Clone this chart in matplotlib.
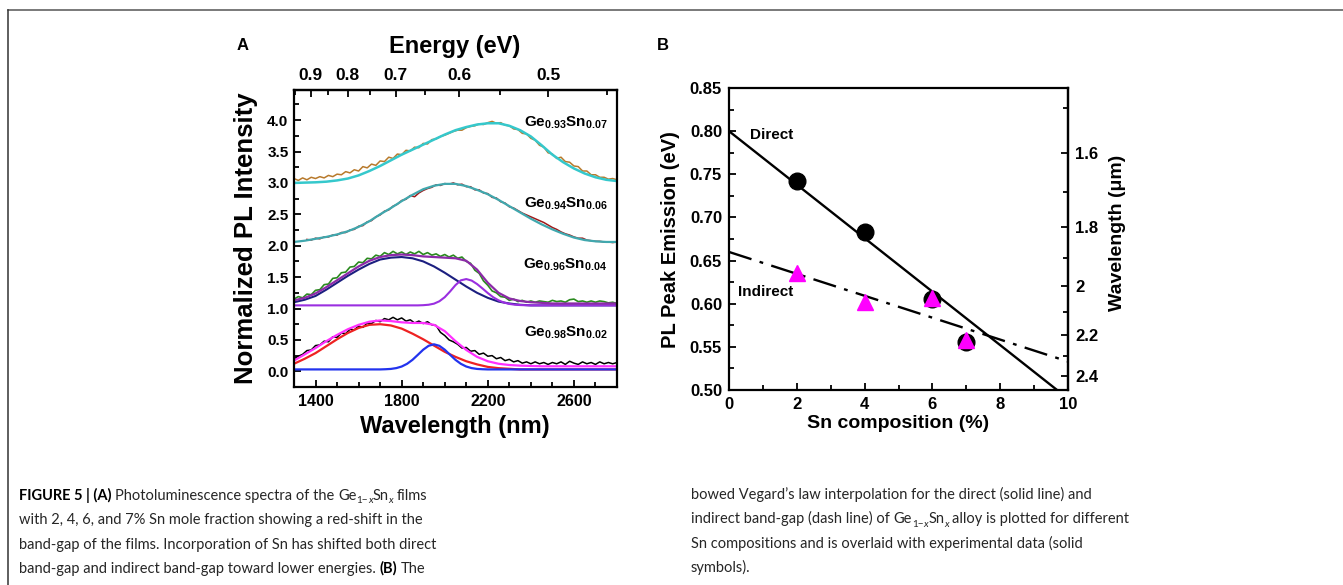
import numpy as np
import matplotlib
matplotlib.use("Agg")
import matplotlib.pyplot as plt
from matplotlib.font_manager import FontProperties, fontManager, weight_dict
from matplotlib.textpath import TextPath
from matplotlib.lines import Line2D
from matplotlib.ticker import FixedLocator

SANS = "Liberation Sans"
plt.rcParams["font.family"] = [SANS, "DejaVu Sans"]
plt.rcParams["mathtext.fontset"] = "custom"
plt.rcParams["mathtext.rm"] = SANS
plt.rcParams["mathtext.it"] = SANS + ":italic"
plt.rcParams["mathtext.bf"] = SANS + ":bold"

# ---------------- data: panel A ----------------
wl_meas = list(range(1300, 2801, 20))          # measured spectra sampling (nm)
wl_meas06 = list(range(1360, 2801, 20))
wl_fit = list(range(1300, 2801, 50))           # fitted curves sampling (nm)
wl_fit_fine = list(range(1300, 2801, 25))

spec_007 = [3.07, 3.04, 3.08, 3.05, 3.09, 3.07, 3.10, 3.08, 3.12, 3.10,
            3.14, 3.13, 3.18, 3.16, 3.21, 3.19, 3.26, 3.24, 3.30, 3.28,
            3.35, 3.34, 3.41, 3.39, 3.46, 3.45, 3.52, 3.51, 3.57, 3.56,
            3.63, 3.62, 3.69, 3.70, 3.74, 3.76, 3.79, 3.82, 3.84, 3.84,
            3.88, 3.90, 3.91, 3.94, 3.93, 3.96, 3.98, 3.95, 3.96, 3.92,
            3.91, 3.86, 3.85, 3.79, 3.78, 3.71, 3.68, 3.60, 3.57, 3.48,
            3.46, 3.39, 3.41, 3.34, 3.33, 3.27, 3.26, 3.19, 3.19, 3.13,
            3.13, 3.09, 3.09, 3.06, 3.07, 3.05]
fit_007 = [3.00, 3.005, 3.01, 3.02, 3.04, 3.07, 3.12, 3.19, 3.27, 3.36,
           3.45, 3.53, 3.61, 3.69, 3.77, 3.84, 3.89, 3.93, 3.95, 3.95,
           3.91, 3.84, 3.74, 3.60, 3.45, 3.33, 3.23, 3.15, 3.09, 3.05, 3.03]

spec_006 = [2.10, 2.09, 2.12, 2.11, 2.14, 2.14, 2.17, 2.17, 2.21, 2.21,
            2.25, 2.26, 2.31, 2.32, 2.38, 2.40, 2.46, 2.49, 2.55, 2.57,
            2.63, 2.66, 2.72, 2.74, 2.80, 2.78, 2.84, 2.88, 2.91, 2.93,
            2.97, 2.96, 2.99, 2.98, 3.00, 2.97, 2.98, 2.94, 2.94, 2.89,
            2.89, 2.84, 2.83, 2.77, 2.76, 2.70, 2.68, 2.62, 2.60, 2.56,
            2.52, 2.49, 2.46, 2.43, 2.40, 2.37, 2.33, 2.29, 2.26, 2.22,
            2.19, 2.17, 2.14, 2.12, 2.12, 2.09, 2.08, 2.07, 2.07, 2.06,
            2.06, 2.05, 2.06]
fit_006 = [2.06, 2.08, 2.11, 2.14, 2.18, 2.23, 2.30, 2.39, 2.50, 2.60,
           2.71, 2.81, 2.90, 2.955, 2.985, 2.985, 2.95, 2.89, 2.82, 2.73,
           2.63, 2.53, 2.43, 2.34, 2.26, 2.19, 2.13, 2.09, 2.07, 2.06, 2.06]

spec_004 = [1.15, 1.19, 1.17, 1.23, 1.22, 1.29, 1.30, 1.38, 1.39, 1.48,
            1.49, 1.57, 1.58, 1.66, 1.67, 1.74, 1.73, 1.80, 1.79, 1.85,
            1.83, 1.89, 1.86, 1.91, 1.87, 1.90, 1.86, 1.90, 1.87, 1.91,
            1.86, 1.89, 1.85, 1.87, 1.83, 1.86, 1.82, 1.85, 1.80, 1.82,
            1.75, 1.72, 1.61, 1.56, 1.44, 1.37, 1.28, 1.25, 1.19, 1.18,
            1.13, 1.15, 1.11, 1.13, 1.10, 1.12, 1.10, 1.12, 1.11, 1.10,
            1.13, 1.11, 1.12, 1.10, 1.14, 1.15, 1.11, 1.12, 1.10, 1.12,
            1.10, 1.12, 1.11, 1.09, 1.10, 1.08]
fit_004_low = [1.10, 1.14, 1.20, 1.30, 1.41, 1.52, 1.62, 1.71, 1.78, 1.81,
               1.82, 1.80, 1.75, 1.67, 1.57, 1.46, 1.35, 1.25, 1.17, 1.11,
               1.08, 1.06, 1.05, 1.05, 1.05, 1.05, 1.05, 1.05, 1.05, 1.05, 1.05]
fit_004_high = [1.05, 1.05, 1.05, 1.05, 1.05, 1.05, 1.05, 1.05, 1.05, 1.05,
                1.05, 1.05, 1.05, 1.05, 1.05, 1.05, 1.05, 1.05, 1.05, 1.05,
                1.05, 1.05, 1.05, 1.05, 1.053, 1.06, 1.077, 1.115, 1.18, 1.272,
                1.373, 1.449, 1.469, 1.445, 1.39, 1.32, 1.246, 1.18, 1.13, 1.095,
                1.073, 1.061, 1.055, 1.052, 1.05, 1.05, 1.05, 1.05, 1.05, 1.05,
                1.05, 1.05, 1.05, 1.05, 1.05, 1.05, 1.05, 1.05, 1.05, 1.05, 1.05]
fit_004_sum = [1.13, 1.17, 1.24, 1.34, 1.45, 1.56, 1.67, 1.76, 1.82, 1.85,
               1.86, 1.85, 1.83, 1.82, 1.81, 1.80, 1.76, 1.62, 1.41, 1.25,
               1.16, 1.12, 1.10, 1.09, 1.08, 1.08, 1.08, 1.08, 1.08, 1.08, 1.08]

spec_002 = [0.20, 0.24, 0.27, 0.33, 0.34, 0.41, 0.42, 0.48, 0.47, 0.55,
            0.54, 0.61, 0.60, 0.67, 0.66, 0.72, 0.70, 0.77, 0.76, 0.81,
            0.79, 0.84, 0.82, 0.86, 0.82, 0.85, 0.80, 0.82, 0.77, 0.80,
            0.76, 0.79, 0.74, 0.73, 0.62, 0.57, 0.50, 0.47, 0.43, 0.37,
            0.38, 0.32, 0.33, 0.27, 0.29, 0.24, 0.25, 0.20, 0.22, 0.17,
            0.19, 0.15, 0.17, 0.13, 0.15, 0.12, 0.15, 0.12, 0.14, 0.11,
            0.14, 0.12, 0.15, 0.11, 0.16, 0.13, 0.11, 0.15, 0.12, 0.14,
            0.11, 0.15, 0.12, 0.14, 0.12, 0.14]
fit_002_low = [0.12, 0.20, 0.29, 0.40, 0.51, 0.61, 0.69, 0.74, 0.75, 0.73,
               0.68, 0.60, 0.51, 0.41, 0.31, 0.23, 0.16, 0.11, 0.07, 0.05,
               0.04, 0.03, 0.03, 0.03, 0.03, 0.03, 0.03, 0.03, 0.03, 0.03, 0.03]
fit_002_high = [0.03, 0.03, 0.03, 0.03, 0.03, 0.03, 0.03, 0.03, 0.03, 0.03,
                0.03, 0.03, 0.03, 0.03, 0.03, 0.03, 0.03, 0.033, 0.038, 0.051,
                0.076, 0.119, 0.182, 0.262, 0.344, 0.406, 0.43, 0.406, 0.344, 0.262,
                0.182, 0.119, 0.076, 0.051, 0.038, 0.033, 0.03, 0.03, 0.03, 0.03,
                0.03, 0.03, 0.03, 0.03, 0.03, 0.03, 0.03, 0.03, 0.03, 0.03,
                0.03, 0.03, 0.03, 0.03, 0.03, 0.03, 0.03, 0.03, 0.03, 0.03, 0.03]
fit_002_sum = [0.17, 0.27, 0.37, 0.48, 0.58, 0.67, 0.74, 0.79, 0.81, 0.80,
               0.78, 0.77, 0.77, 0.74, 0.64, 0.48, 0.34, 0.23, 0.16, 0.12,
               0.10, 0.09, 0.085, 0.08, 0.08, 0.08, 0.08, 0.08, 0.08, 0.08, 0.08]

sample_labels = [r"Ge$_{\mathbf{0.93}}$Sn$_{\mathbf{0.07}}$",
                 r"Ge$_{\mathbf{0.94}}$Sn$_{\mathbf{0.06}}$",
                 r"Ge$_{\mathbf{0.96}}$Sn$_{\mathbf{0.04}}$",
                 r"Ge$_{\mathbf{0.98}}$Sn$_{\mathbf{0.02}}$"]
sample_label_y = [3.96, 2.66, 1.70, 0.62]

wl_ticks = [1400, 1800, 2200, 2600]
wl_minor = [1300, 1500, 1600, 1700, 1900, 2000, 2100, 2300, 2400, 2500, 2700]
int_ticks = [0.0, 0.5, 1.0, 1.5, 2.0, 2.5, 3.0, 3.5, 4.0]
int_minor = [0.25, 0.75, 1.25, 1.75, 2.25, 2.75, 3.25, 3.75, 4.25]
energy_ticks = [0.9, 0.8, 0.7, 0.6, 0.5]
energy_minor = [0.95, 0.85, 0.75, 0.65, 0.55, 0.45]

# ---------------- data: panel B ----------------
sn_pts = [2, 4, 6, 7]
direct_pts = [0.742, 0.683, 0.605, 0.556]
indirect_pts = [0.636, 0.602, 0.607, 0.558]
fit_x = [0, 10]
direct_fit = [0.800, 0.490]
indirect_fit = [0.660, 0.533]
sn_ticks = [0, 2, 4, 6, 8, 10]
sn_minor = [1, 3, 5, 7, 9]
pe_ticks = [0.50, 0.55, 0.60, 0.65, 0.70, 0.75, 0.80, 0.85]
pe_minor = [0.525, 0.575, 0.625, 0.675, 0.725, 0.775, 0.825]
wl_um_ticks = [1.6, 1.8, 2.0, 2.2, 2.4]
wl_um_labels = ["1.6", "1.8", "2", "2.2", "2.4"]
wl_um_minor = [1.5, 1.7, 1.9, 2.1, 2.3]

# ---------------- figure ----------------
W, H = 1343, 585
fig = plt.figure(figsize=(W / 100, H / 100), dpi=100)
fig.patch.set_facecolor("white")


def fx(px):
    return px / W


def fy(py):
    return 1 - py / H


fig.add_artist(Line2D([fx(8), 1.0], [fy(10), fy(10)], color="#555555", lw=1.1,
                      transform=fig.transFigure))
fig.add_artist(Line2D([fx(8), fx(8)], [fy(10), 0.0], color="#333333", lw=1.1,
                      transform=fig.transFigure))


def bold_labels(labels):
    for lab in labels:
        lab.set_fontweight("bold")


# ---------- Panel A ----------
axA = fig.add_axes([fx(294), fy(387), fx(617) - fx(294), fy(90) - fy(387)])
axA.plot(wl_meas, spec_007, color="#b87a2c", lw=1.1)
axA.plot(wl_fit, fit_007, color="#35c8cc", lw=1.8)
axA.plot(wl_meas06, spec_006, color="#a01818", lw=1.1)
axA.plot(wl_fit, fit_006, color="#40a8ae", lw=1.6)
axA.plot(wl_meas, spec_004, color="#2a8a1e", lw=1.2)
axA.plot(wl_fit, fit_004_low, color="#1c1f80", lw=1.5)
axA.plot(wl_fit_fine, fit_004_high, color="#9a2fe0", lw=1.5)
axA.plot(wl_fit, fit_004_sum, color="#8c2aa8", lw=1.6)
axA.plot(wl_meas, spec_002, color="black", lw=1.1)
axA.plot(wl_fit, fit_002_low, color="#ee2222", lw=1.6)
axA.plot(wl_fit_fine, fit_002_high, color="#2233ee", lw=1.6)
axA.plot(wl_fit, fit_002_sum, color="#ff30ff", lw=1.6)

axA.set_xlim(1300, 2800)
axA.set_ylim(-0.25, 4.48)
axA.xaxis.set_major_locator(FixedLocator(wl_ticks))
axA.xaxis.set_minor_locator(FixedLocator(wl_minor))
axA.yaxis.set_major_locator(FixedLocator(int_ticks))
axA.yaxis.set_minor_locator(FixedLocator(int_minor))
axA.set_yticklabels([f"{v:.1f}" for v in int_ticks])
axA.set_xticklabels([str(v) for v in wl_ticks])
axA.tick_params(which="both", direction="in", top=False, right=False, width=1.3)
axA.tick_params(axis="y", which="major", length=5, labelsize=11, pad=4)
axA.tick_params(axis="x", which="major", length=5, labelsize=11.5, pad=5)
axA.tick_params(which="minor", length=3.5)
bold_labels(axA.get_xticklabels() + axA.get_yticklabels())
for s in axA.spines.values():
    s.set_linewidth(1.6)


def w2e(w):
    w = np.asarray(w, dtype=float)
    with np.errstate(divide="ignore"):
        return 1240.0 / w


secA = axA.secondary_xaxis("top", functions=(w2e, w2e))
secA.xaxis.set_major_locator(FixedLocator(energy_ticks))
secA.xaxis.set_minor_locator(FixedLocator(energy_minor))
secA.set_xticklabels([f"{v:.1f}" for v in energy_ticks])
secA.tick_params(which="both", direction="in", width=1.3)
secA.tick_params(which="major", length=5, labelsize=12.5, pad=5)
secA.tick_params(which="minor", length=3.5)
bold_labels(secA.get_xticklabels())
secA.spines["top"].set_linewidth(1.6)

for lbl, yv in zip(sample_labels, sample_label_y):
    axA.text(2755, yv, lbl, ha="right", va="center", fontsize=11, fontweight="bold")

fig.text(fx(455), fy(46), "Energy (eV)", ha="center", va="center", fontsize=17,
         fontweight="bold")
fig.text(fx(455), fy(426), "Wavelength (nm)", ha="center", va="center", fontsize=17,
         fontweight="bold")
fig.text(fx(246), fy(238), "Normalized PL Intensity", ha="center", va="center",
         rotation=90, fontsize=18.5, fontweight="bold")
fig.text(fx(243), fy(46), "A", ha="center", va="center", fontsize=12, fontweight="bold")

# ---------- Panel B ----------
axB = fig.add_axes([fx(729), fy(390), fx(1068) - fx(729), fy(88) - fy(390)])
axB.plot(fit_x, direct_fit, color="black", lw=1.7)
axB.plot(fit_x, indirect_fit, color="black", lw=1.7,
         ls=(0, (10.0, 3.6, 1.6, 3.6)))
axB.plot(sn_pts, direct_pts, ls="none", marker="o", ms=12, color="black")
axB.plot(sn_pts, indirect_pts, ls="none", marker="^", ms=11.5, color="#ff00ff",
         markeredgecolor="#ff00ff")
axB.set_xlim(0, 10)
axB.set_ylim(0.50, 0.85)
axB.xaxis.set_major_locator(FixedLocator(sn_ticks))
axB.xaxis.set_minor_locator(FixedLocator(sn_minor))
axB.yaxis.set_major_locator(FixedLocator(pe_ticks))
axB.yaxis.set_minor_locator(FixedLocator(pe_minor))
axB.set_xticklabels([str(v) for v in sn_ticks])
axB.set_yticklabels([f"{v:.2f}" for v in pe_ticks])
axB.tick_params(which="both", direction="in", top=False, right=False, width=1.3)
axB.tick_params(which="major", length=5, labelsize=12, pad=5)
axB.tick_params(which="minor", length=3.5)
bold_labels(axB.get_xticklabels() + axB.get_yticklabels())
for s in axB.spines.values():
    s.set_linewidth(1.6)


def e2um(e):
    e = np.asarray(e, dtype=float)
    with np.errstate(divide="ignore"):
        return 1.24 / e


secB = axB.secondary_yaxis("right", functions=(e2um, e2um))
secB.yaxis.set_major_locator(FixedLocator(wl_um_ticks))
secB.yaxis.set_minor_locator(FixedLocator(wl_um_minor))
secB.set_yticklabels(wl_um_labels)
secB.tick_params(which="both", direction="in", width=1.3)
secB.tick_params(which="major", length=5, labelsize=12, pad=5)
secB.tick_params(which="minor", length=3.5)
bold_labels(secB.get_yticklabels())
secB.spines["right"].set_linewidth(1.6)

axB.text(0.62, 0.796, "Direct", ha="left", va="center", fontsize=11, fontweight="bold")
axB.text(0.27, 0.614, "Indirect", ha="left", va="center", fontsize=11, fontweight="bold")

fig.text(fx(898), fy(423), "Sn composition (%)", ha="center", va="center",
         fontsize=14, fontweight="bold")
fig.text(fx(671), fy(240), "PL Peak Emission (eV)", ha="center", va="center",
         rotation=90, fontsize=14.5, fontweight="bold")
fig.text(fx(1117), fy(233), "Wavelength (\u03bcm)", ha="center", va="center",
         rotation=90, fontsize=14, fontweight="bold")
fig.text(fx(663), fy(46), "B", ha="center", va="center", fontsize=12, fontweight="bold")

# ---------- caption ----------
renderer = fig.canvas.get_renderer()
probe = "with 2, 4, 6, and 7% Sn mole fraction showing a red-shift in the"
TARGET_W = 401.0   # px width of the probe line in the reference
TARGET_CAP = 11.0  # px cap height in the reference


def wnum(w):
    if isinstance(w, str):
        return weight_dict.get(w, 400)
    return int(w)


def text_width(s, fp):
    t = fig.text(0, 0, s, fontproperties=fp)
    w = t.get_window_extent(renderer).width
    t.remove()
    return w


families = ["Liberation Sans", "Liberation Sans Narrow", "Roboto", "Roboto Condensed",
            "Lato", "Open Sans", "Open Sans Condensed", "Noto Sans", "Inter",
            "DejaVu Sans"]
cands = [f for f in fontManager.ttflist
         if f.name in families and f.style == "normal"
         and wnum(f.weight) == 400]
best = None
for f in cands:
    try:
        fp = FontProperties(fname=f.fname, size=12)
        w0 = text_width(probe, fp)
        size = 12 * TARGET_W / w0
        cap = TextPath((0, 0), "H", prop=FontProperties(fname=f.fname, size=size)
                       ).get_extents().height * 100 / 72
        score = abs(cap - TARGET_CAP)
        if best is None or score < best[0]:
            best = (score, f, size)
    except Exception:
        continue

if best is not None:
    reg_f = best[1]
    CAP = best[2]
    same = [g for g in fontManager.ttflist if g.name == reg_f.name
            and g.stretch == reg_f.stretch]
    bolds = [g for g in same if g.style == "normal"]
    bold_f = min(bolds, key=lambda g: abs(wnum(g.weight) - 700))
    itals = [g for g in same if g.style == "italic"]
    ital_f = (min(itals, key=lambda g: abs(wnum(g.weight) - 400)) if itals else reg_f)
    mk = lambda g, s: FontProperties(fname=g.fname, size=s)
    FP = {"reg": mk(reg_f, CAP), "bold": mk(bold_f, CAP),
          "sub": mk(reg_f, CAP * 0.68), "subit": mk(ital_f, CAP * 0.68)}
else:
    CAP = 10.5
    FP = {"reg": FontProperties(family=SANS, size=CAP),
          "bold": FontProperties(family=SANS, size=CAP, weight="bold"),
          "sub": FontProperties(family=SANS, size=CAP * 0.68),
          "subit": FontProperties(family=SANS, size=CAP * 0.68, style="italic")}

COL = {"reg": "#262626", "bold": "black", "sub": "#262626", "subit": "#262626"}
space_w = {k: text_width("x x", fp) - text_width("xx", fp) for k, fp in FP.items()}
sub_drop = CAP * 0.22 * 100 / 72  # px


def line(x_px, y_px, segments):
    x = x_px
    for txt, kind in segments:
        lead = len(txt) - len(txt.lstrip(" "))
        trail = len(txt) - len(txt.rstrip(" "))
        core = txt.strip(" ")
        x += lead * space_w[kind]
        yy = y_px + (sub_drop if kind.startswith("sub") else 0)
        t = fig.text(fx(x), fy(yy), core, fontproperties=FP[kind], color=COL[kind],
                     va="baseline", ha="left")
        x += t.get_window_extent(renderer).width
        x += trail * space_w[kind]


GE = [("Ge", "reg"), ("1\u2212", "sub"), ("x", "subit"), ("Sn", "reg"), ("x", "subit")]
left_lines = [
    [("FIGURE 5 | (A)", "bold"), (" Photoluminescence spectra of the ", "reg")] + GE
    + [(" films", "reg")],
    [("with 2, 4, 6, and 7% Sn mole fraction showing a red-shift in the", "reg")],
    [("band-gap of the films. Incorporation of Sn has shifted both direct", "reg")],
    [("band-gap and indirect band-gap toward lower energies. ", "reg"),
     ("(B)", "bold"), (" The", "reg")],
]
right_lines = [
    [("bowed Vegard\u2019s law interpolation for the direct (solid line) and", "reg")],
    [("indirect band-gap (dash line) of ", "reg")] + GE
    + [(" alloy is plotted for different", "reg")],
    [("Sn compositions and is overlaid with experimental data (solid", "reg")],
    [("symbols).", "reg")],
]
for i, segs in enumerate(left_lines):
    line(19, 500 + 24.3 * i, segs)
for i, segs in enumerate(right_lines):
    line(691, 499 + 24.3 * i, segs)

fig.savefig("out.png", dpi=100, facecolor="white")
